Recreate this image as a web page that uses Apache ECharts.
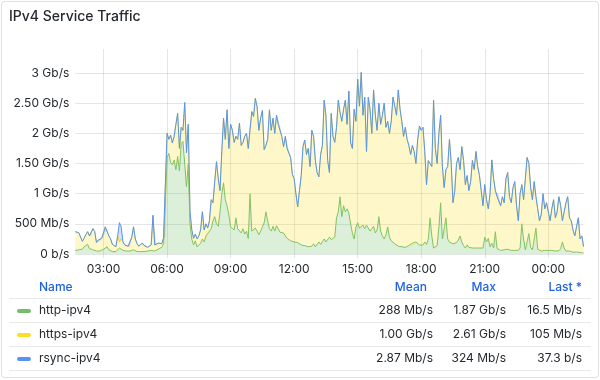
<!DOCTYPE html>
<html>
<head>
<meta charset="utf-8">
<script src="https://cdn.jsdelivr.net/npm/echarts@6/dist/echarts.min.js"></script>
<style>
html,body{margin:0;padding:0;background:#fff;}
#c{width:600px;height:380px;}
</style>
</head>
<body>
<div id="c"></div>
<script>
// ---- data (Mb/s), 5-minute samples from 01:40 to 01:40 next day ----
const START_MIN = 100;   // 01:40
const STEP_MIN = 5;
const xTickLabels = ['03:00','06:00','09:00','12:00','15:00','18:00','21:00','00:00'];
const yTickLabels = ['0 b/s','500 Mb/s','1 Gb/s','1.50 Gb/s','2 Gb/s','2.50 Gb/s','3 Gb/s'];

const httpIpv4 = [
60,50,70,60,
80,120,150,160,90,60,70,60,50,40,50,60,
80,110,120,70,50,40,50,40,60,100,120,60,
40,50,40,50,60,70,50,40,50,40,50,40,
60,50,40,60,70,50,60,80,90,110,170,180,
1600,1670,1520,1480,1560,1400,1620,1380,1830,1870,1840,1120,
1500,500,250,150,220,120,150,180,250,200,300,280,
380,420,550,620,500,460,700,1000,1180,900,800,650,
450,420,400,600,420,400,350,420,330,380,260,1000,
380,400,430,380,320,380,450,520,700,550,420,380,
460,380,470,420,360,380,350,300,260,230,220,210,
200,200,190,180,150,170,140,160,120,150,130,170,
120,150,200,160,170,250,200,220,280,240,230,280,
600,700,950,620,800,700,750,680,500,350,250,450,
520,430,400,480,420,480,500,380,420,460,350,400,
620,380,300,250,320,450,280,220,190,170,150,130,
140,120,130,110,120,140,150,180,150,200,170,150,
160,150,200,160,250,600,300,100,120,140,450,850,
250,220,600,250,200,180,170,160,190,230,300,200,
140,100,150,110,130,100,80,100,80,100,80,100,
280,200,260,120,180,100,370,90,70,60,80,70,
60,80,90,60,70,60,80,60,100,500,250,70,
90,340,110,70,90,430,80,60,50,50,60,50,
60,50,60,70,50,60,55,90,200,100,50,40,
50,40,30,40,35,30,25,20,16.5
];

const httpsIpv4 = [
310,290,280,220,
130,140,170,210,210,220,350,310,140,190,160,200,
210,340,300,230,200,120,100,80,240,96,130,140,
110,70,90,70,220,380,200,130,80,110,130,100,
90,60,80,90,570,100,70,100,60,60,90,110,
400,230,450,360,390,750,710,370,270,180,670,560,
650,200,150,110,110,130,150,220,450,200,200,150,
170,480,300,580,1030,790,350,700,1070,1000,1590,1100,
1700,1630,1450,1350,1480,1770,1450,1430,1620,1620,1490,1060,
1980,1880,2150,2060,1730,1870,1930,1210,1100,1350,1970,1670,
1790,1620,1830,1730,1780,1570,1430,1650,1490,1490,1380,1110,
1050,800,590,870,1150,1610,1750,1490,1630,1300,1920,1780,
1430,1200,1080,1490,1630,2300,2100,1330,1070,2090,1720,1570,
1500,1850,1400,1580,1600,1850,1400,2020,1340,1400,2150,1750,
2380,2020,2610,1820,2180,1220,2100,2020,1580,2260,1950,1650,
1880,1770,2000,2250,1780,1750,1720,1980,2410,2280,2150,2590,
2260,2080,1820,1990,1780,1660,1500,1620,1550,1300,1730,1970,
1890,1950,1500,990,1300,900,1150,2450,1630,1360,1550,1450,
1200,880,800,1200,1700,1320,680,890,1310,1370,1100,1580,
1410,1050,1150,940,1070,1450,1320,1600,1370,1200,970,700,
870,700,490,880,1380,1150,680,860,910,740,870,780,
1190,1270,860,790,1030,1140,720,490,900,650,650,1180,
1510,1160,990,830,1110,520,670,490,600,950,690,800,
640,500,690,830,550,640,895,710,350,600,800,910,
550,510,370,260,415,570,225,280,105
];

const rsyncIpv4 = [
1.2,0.8,1.5,0.9,
1.1,0.7,2.3,1.0,0.6,0.9,1.4,1.2,0.8,0.5,0.7,1.1,
1.3,0.9,1.0,0.6,0.8,0.5,0.4,0.6,1.2,324,200,1.5,
0.9,0.7,0.5,0.6,1.1,1.4,0.8,0.6,0.5,0.7,0.9,0.6,
0.8,0.5,0.6,0.9,1.8,0.7,0.6,0.8,0.9,1.1,1.3,1.6,
2.1,1.9,2.4,1.7,1.5,2.2,1.8,1.4,1.6,1.9,2.0,1.3,
1.2,0.9,0.7,0.5,0.6,0.4,0.5,0.7,0.9,0.6,0.8,0.7,
0.9,1.1,0.8,1.3,1.5,1.2,1.0,1.4,1.7,1.3,1.6,1.2,
1.4,1.3,1.1,1.2,1.5,1.6,1.0,1.1,1.3,1.4,0.9,1.2,
1.6,1.5,1.8,1.7,1.2,1.4,1.5,0.9,1.0,1.1,1.6,1.3,
1.4,1.2,1.5,1.3,1.4,1.1,1.0,1.2,1.0,0.9,0.8,0.7,
0.6,0.5,0.4,0.6,0.8,1.1,1.2,1.0,1.1,0.9,1.3,1.2,
1.0,0.8,0.7,1.0,1.1,1.5,1.4,0.9,0.8,1.4,1.2,1.1,
1.0,1.3,1.0,1.1,1.2,1.3,1.0,1.4,0.9,1.0,1.5,1.2,
1.6,1.4,1.7,1.2,1.5,0.8,1.4,1.3,1.1,1.5,1.3,1.1,
1.2,1.1,1.3,1.4,1.2,1.1,1.0,1.2,1.5,1.4,1.3,1.6,
1.4,1.3,1.1,1.2,1.1,1.0,0.9,1.0,1.0,0.8,1.1,1.2,
1.2,1.2,0.9,0.6,0.8,0.7,0.8,1.4,1.0,0.8,0.9,0.9,
0.7,0.5,0.5,0.7,1.0,0.8,0.4,0.5,0.8,0.8,0.6,0.9,
0.8,0.6,0.6,0.5,0.6,0.8,0.7,0.9,0.7,0.6,0.5,0.4,
0.5,0.4,0.3,0.5,0.8,0.6,0.4,0.5,0.5,0.4,0.5,0.4,
0.6,0.7,0.5,0.4,0.5,0.6,0.4,0.3,0.5,0.3,0.3,0.6,
0.8,0.6,0.5,0.4,0.6,0.3,0.3,0.2,0.3,0.5,0.3,0.4,
0.3,0.2,0.3,0.4,0.3,0.3,0.4,0.3,0.2,0.3,0.4,0.4,
0.2,0.2,0.1,0.1,0.1,0.1,0.05,0.05,0.0000373
];

const legendNames = ['http-ipv4','https-ipv4','rsync-ipv4'];
const legendMean  = ['288 Mb/s','1.00 Gb/s','2.87 Mb/s'];
const legendMax   = ['1.87 Gb/s','2.61 Gb/s','324 Mb/s'];
const legendLast  = ['16.5 Mb/s','105 Mb/s','37.3 b/s'];
const legendHeaders = ['Name','Mean','Max','Last *'];
const seriesColors = ['#73BF69','#FADE2A','#5794F2'];

// ---- categories (sample times) ----
const categories = httpIpv4.map((_, i) => {
  const m = (START_MIN + i * STEP_MIN) % 1440;
  return String(Math.floor(m / 60)).padStart(2,'0') + ':' + String(m % 60).padStart(2,'0');
});

const FONT = 'Inter, "Noto Sans", sans-serif';
const TEXT = '#24292e';
const GRID = 'rgba(36,41,46,0.12)';
const BLUE = '#1F62E0';

const isTick = (idx, val) => xTickLabels.indexOf(val) >= 0;

const seriesData = [httpIpv4, httpsIpv4, rsyncIpv4];
const series = seriesData.map((d, k) => ({
  name: legendNames[k],
  type: 'line',
  stack: 'total',
  data: d,
  showSymbol: false,
  symbol: 'none',
  smooth: false,
  lineStyle: { width: 1, color: seriesColors[k] },
  itemStyle: { color: seriesColors[k] },
  areaStyle: { color: seriesColors[k], opacity: 0.25 },
  emphasis: { disabled: true },
  z: 2 + k
}));

// ---- legend table as graphic elements ----
const graphics = [];
graphics.push({
  type: 'rect', shape: { x: 1.5, y: 1.5, width: 597, height: 376, r: 3 },
  style: { fill: 'none', stroke: 'rgba(36,41,46,0.14)', lineWidth: 1 }, silent: true
});
graphics.push({
  type: 'text', x: 9, y: 17,
  style: { text: 'IPv4 Service Traffic', font: '500 14px ' + FONT, fill: TEXT, textVerticalAlign: 'middle', textAlign: 'left' }
});
const headerY = 287;
const headerX = [39, 427, 496, 582];
const headerAlign = ['left','right','right','right'];
legendHeaders.forEach((h, j) => {
  graphics.push({ type: 'text', x: headerX[j], y: headerY,
    style: { text: h, font: '500 12px ' + FONT, fill: BLUE, textAlign: headerAlign[j], textVerticalAlign: 'middle' } });
});
const sepY = [298.5, 322.5, 346.5, 370.5];
sepY.forEach(y => graphics.push({ type: 'line', shape: { x1: 9, y1: y, x2: 591, y2: y },
  style: { stroke: 'rgba(36,41,46,0.10)', lineWidth: 1 }, silent: true }));
const rowY = [310, 334, 358];
const valX = [433, 506, 582];
legendNames.forEach((n, k) => {
  const y = rowY[k];
  graphics.push({ type: 'rect', shape: { x: 17, y: y - 1, width: 14, height: 4, r: 2 },
    style: { fill: seriesColors[k] } });
  graphics.push({ type: 'text', x: 39, y: y,
    style: { text: n, font: '12px ' + FONT, fill: TEXT, textAlign: 'left', textVerticalAlign: 'middle' } });
  [legendMean[k], legendMax[k], legendLast[k]].forEach((v, j) => {
    graphics.push({ type: 'text', x: valX[j], y: y,
      style: { text: v, font: '12px ' + FONT, fill: TEXT, textAlign: 'right', textVerticalAlign: 'middle' } });
  });
});

const chart = echarts.init(document.getElementById('c'), null, { renderer: 'canvas' });
chart.setOption({
  animation: false,
  backgroundColor: '#fff',
  textStyle: { fontFamily: FONT },
  grid: { left: 75.3, right: 16.4, top: 49, bottom: 126, containLabel: false },
  xAxis: {
    type: 'category',
    data: categories,
    boundaryGap: false,
    axisLine: { show: false },
    axisTick: { show: true, length: 4, interval: isTick, lineStyle: { color: GRID } },
    axisLabel: { interval: isTick, color: TEXT, fontSize: 12, fontFamily: FONT, margin: 9 },
    splitLine: { show: true, interval: isTick, lineStyle: { color: GRID, width: 1 } }
  },
  yAxis: {
    type: 'value',
    min: 0, max: 3400, interval: 500,
    axisLine: { show: false },
    axisTick: { show: false },
    axisLabel: {
      color: TEXT, fontSize: 12, fontFamily: FONT, margin: 6,
      showMaxLabel: false,
      formatter: v => (v % 500 === 0 && yTickLabels[v / 500] !== undefined) ? yTickLabels[v / 500] : ''
    },
    splitLine: { show: true, showMaxLine: false, lineStyle: { color: GRID, width: 1 } }
  },
  series: series,
  graphic: graphics
});
</script>
</body>
</html>
